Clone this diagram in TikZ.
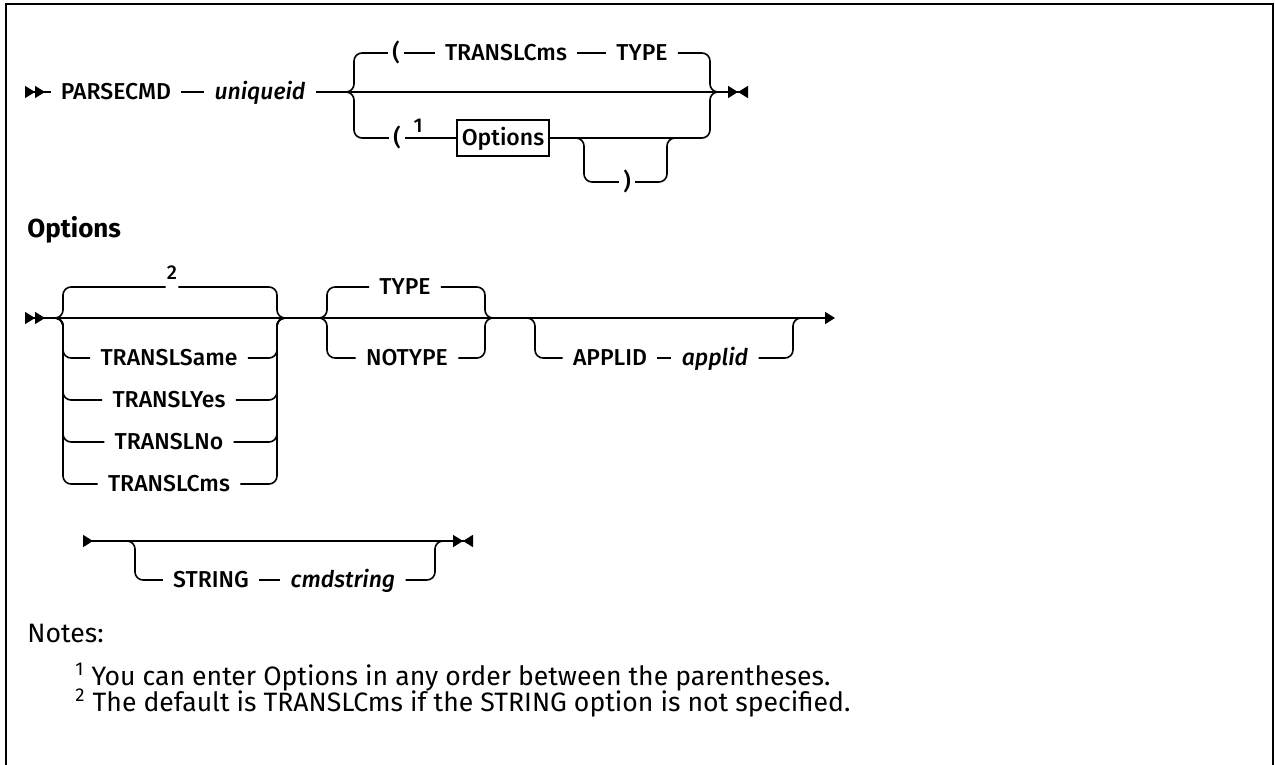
\documentclass[tikz,border=0pt]{standalone}
\usepackage{fontspec}
\setmainfont{Fira Sans}
\newfontfamily\kwfont{Fira Sans Medium}
\usetikzlibrary{arrows.meta}

\begin{document}
\begin{tikzpicture}[x=0.5pt, y=-0.5pt,
    >={Triangle[length=5pt, width=6pt, sep=0pt]},
    rail/.style={line width=0.8pt, rounded corners=4pt},
    kw/.style={font=\kwfont\fontsize{11.5}{14}\selectfont, inner xsep=5pt, inner ysep=2pt,
               text height=7.9pt, text depth=0pt},
    var/.style={kw, font=\kwfont\itshape\fontsize{11.5}{14}\selectfont},
    paren/.style={kw, inner xsep=2pt},
    fnum/.style={font=\kwfont\fontsize{10}{12}\selectfont, inner xsep=0.5pt, inner ysep=3.5pt},
    optbox/.style={kw, draw, line width=0.8pt, minimum width=46pt, minimum height=18pt, inner xsep=2pt},
    head/.style={font=\bfseries\fontsize{13}{16}\selectfont, anchor=west, inner sep=0pt},
    note/.style={font=\fontsize{13.3}{16}\selectfont, anchor=west, inner sep=0pt},
  ]
  \useasboundingbox (0,0) rectangle (1275,765);
  % frame, open at the bottom
  \draw[line width=1.2pt] (6,765) -- (6,4) -- (1273,4) -- (1273,765);

  %% PARSECMD line
  \coordinate (s1) at (25,92);
  \coordinate (e1) at (748,92);
  \node[kw]  (parse) at (116,92) {PARSECMD};
  \node[var] (uniq)  at (260,92) {uniqueid};
  \draw[rail, {>>}-] (s1) -- (parse);
  \draw[rail] (parse) -- (uniq);
  \draw[rail, -{><}] (uniq) -- (e1);

  % default branch
  \node[paren] (lp1)   at (396,53) {(};
  \node[kw]    (tcms1) at (506,53) {TRANSLCms};
  \node[kw]    (type1) at (642,53) {TYPE};
  \draw[rail] (330,92) -- (354,92) |- (lp1);
  \draw[rail] (lp1) -- (tcms1);
  \draw[rail] (tcms1) -- (type1);
  \draw[rail] (type1) -| (710,92) -- (726,92);

  % options branch
  \node[paren]  (lp2)  at (397,138) {(};
  \node[fnum]   (fn1)  at (418,126) {1};
  \node[optbox] (opts) at (503,138) {Options};
  \node[paren]  (rp1)  at (627,182) {)};
  \draw[rail] (330,92) -- (354,92) |- (lp2);
  \draw[rail] (lp2) -- (opts);
  \draw[rail] (opts) -| (710,92) -- (726,92);
  \draw[rail] (565,138) -- (584,138) |- (rp1);
  \draw[rail] (rp1) -| (667,138) -- (685,138);

  %% Options fragment
  \node[head] (hopt) at (27,230) {Options};
  \coordinate (s2) at (25,318);
  \coordinate (e2) at (835,318);
  \draw[rail, {>>}->] (s2) -- (e2);

  % TRANSL choice
  \node[fnum, anchor=south] (fn2) at (172,287) {2};
  \node[kw] (same)  at (169,358) {TRANSLSame};
  \node[kw] (yes)   at (169,400) {TRANSLYes};
  \node[kw] (no)    at (169,442) {TRANSLNo};
  \node[kw] (tcms2) at (169,484) {TRANSLCms};
  \draw[rail] (50,318) -- (63,318) |- (fn2.south west);
  \draw[rail] (fn2.south east) -| (277,318) -- (300,318);
  \draw[rail] (50,318) -- (63,318) |- (same);
  \draw[rail] (same) -| (277,318) -- (300,318);
  \draw[rail] (50,318) -- (63,318) |- (yes);
  \draw[rail] (yes) -| (277,318) -- (300,318);
  \draw[rail] (50,318) -- (63,318) |- (no);
  \draw[rail] (no) -| (277,318) -- (300,318);
  \draw[rail] (50,318) -- (63,318) |- (tcms2);
  \draw[rail] (tcms2) -| (277,318) -- (300,318);

  % TYPE choice
  \node[kw] (type2)  at (405,287) {TYPE};
  \node[kw] (notype) at (407,358) {NOTYPE};
  \draw[rail] (300,318) -- (327,318) |- (type2);
  \draw[rail] (type2) -| (485,318) -- (505,318);
  \draw[rail] (300,318) -- (327,318) |- (notype);
  \draw[rail] (notype) -| (485,318) -- (505,318);

  % APPLID
  \node[kw]  (applkw) at (610,358) {APPLID};
  \node[var] (applv)  at (715,358) {applid};
  \draw[rail] (515,318) -- (535,318) |- (applkw);
  \draw[rail] (applkw) -- (applv);
  \draw[rail] (applv) -| (793,318) -- (812,318);

  %% continuation line
  \coordinate (s3) at (83,541);
  \coordinate (e3) at (473,541);
  \draw[rail, >-{><}] (s3) -- (e3);
  \node[kw]  (strkw) at (211,580) {STRING};
  \node[var] (strv)  at (343,580) {cmdstring};
  \draw[rail] (115,541) -- (135,541) |- (strkw);
  \draw[rail] (strkw) -- (strv);
  \draw[rail] (strv) -| (435,541) -- (450,541);

  %% notes
  \node[note] (notes) at (27,633) {Notes:};
  \node[note] (note1) at (75,677)
    {\textsuperscript{1} You can enter Options in any order between the parentheses.};
  \node[note] (note2) at (75,703)
    {\textsuperscript{2} The default is TRANSLCms if the STRING option is not specified.};
\end{tikzpicture}
\end{document}
